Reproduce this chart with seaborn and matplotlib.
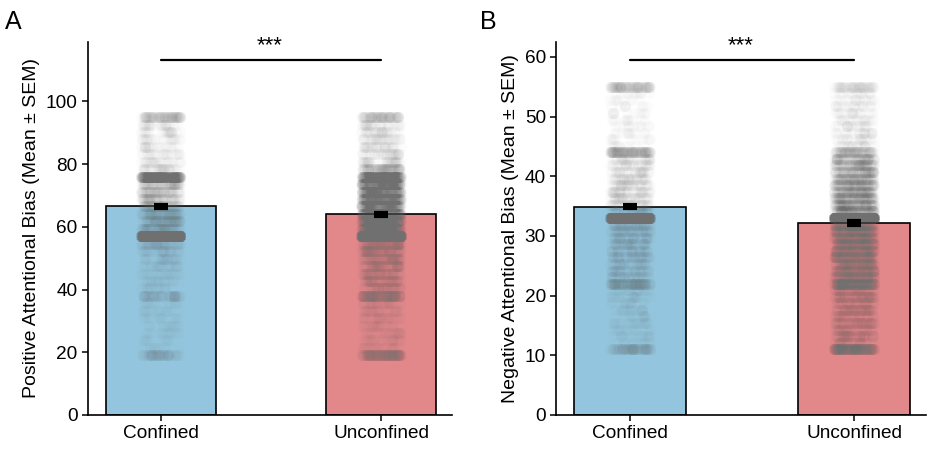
import numpy as np
import pandas as pd
import matplotlib
matplotlib.use('Agg')
import matplotlib.pyplot as plt
import seaborn as sns

# Groups and summary values (mean and SEM)
groups = ['Confined', 'Unconfined']
bar_colors = ['#93c6de', '#e2888b']

pos_means = [66.6, 64.0]
pos_sem = [0.5, 0.5]
neg_means = [34.9, 32.2]
neg_sem = [0.3, 0.3]

# Positive bias: score levels and how many subjects sit on each (estimated from darkness)
pos_levels = [19.0, 21.4, 23.75, 26.1, 28.5, 30.9, 33.25, 35.6, 38.0, 40.4, 42.75,
              45.1, 47.5, 49.9, 52.25, 54.6, 57.0, 59.4, 61.75, 64.1, 66.5, 68.9,
              71.25, 73.6, 76.0, 78.4, 80.75, 83.1, 85.5, 87.9, 90.25, 92.6, 95.0]
pos_counts_confined = [60, 10, 10, 12, 12, 12, 14, 14, 60, 16, 18,
                       20, 24, 27, 33, 55, 1350, 85, 85, 80, 80, 80,
                       85, 100, 420, 40, 28, 25, 25, 25, 25, 28, 110]
pos_counts_unconfined = [160, 22, 22, 22, 22, 25, 28, 32, 160, 50, 56,
                         62, 68, 75, 88, 105, 2000, 330, 330, 315, 300, 300,
                         300, 315, 360, 120, 44, 38, 36, 36, 33, 33, 100]

# Negative bias: score levels and counts
neg_levels = [11.0, 12.1, 13.2, 14.3, 15.4, 16.5, 17.6, 18.7, 19.8, 20.9, 22.0,
              23.1, 24.2, 25.3, 26.4, 27.5, 28.6, 29.7, 30.8, 31.9, 33.0, 34.1,
              35.2, 36.3, 37.4, 38.5, 39.6, 40.7, 41.8, 42.9, 44.0, 45.1, 46.2,
              47.3, 48.4, 49.5, 50.6, 51.7, 52.8, 53.9, 55.0]
neg_counts_confined = [90, 10, 15, 12, 20, 12, 18, 12, 20, 20, 120,
                       36, 40, 38, 45, 40, 45, 45, 50, 56, 1300, 50,
                       45, 42, 42, 40, 40, 36, 34, 34, 160, 11, 11,
                       11, 11, 11, 11, 9, 9, 11, 110]
neg_counts_unconfined = [260, 36, 60, 40, 64, 40, 64, 44, 70, 60, 250,
                         120, 124, 128, 132, 136, 140, 144, 152, 180, 2200, 170,
                         155, 146, 140, 134, 126, 118, 112, 100, 110, 25, 22,
                         22, 22, 20, 20, 20, 17, 17, 55]


def expand(levels, counts_a, counts_b):
    vals = np.concatenate([np.repeat(levels, counts_a), np.repeat(levels, counts_b)])
    grp = [groups[0]] * int(np.sum(counts_a)) + [groups[1]] * int(np.sum(counts_b))
    return pd.DataFrame({'group': grp, 'value': vals})


pos_df = expand(pos_levels, pos_counts_confined, pos_counts_unconfined)
neg_df = expand(neg_levels, neg_counts_confined, neg_counts_unconfined)

sns.set_style('ticks')
plt.rcParams['font.family'] = ['Liberation Sans', 'DejaVu Sans']
plt.rcParams['text.color'] = 'black'
plt.rcParams['axes.labelcolor'] = 'black'
np.random.seed(3)

fig = plt.figure(figsize=(9.35, 4.51), dpi=100)
ax_a = fig.add_axes([0.094, 0.080, 0.389, 0.827])
ax_b = fig.add_axes([0.595, 0.080, 0.395, 0.827])

panels = [
    (ax_a, pos_df, pos_means, pos_sem, 'Positive Attentional Bias (Mean ± SEM)',
     (0, 119), [0, 20, 40, 60, 80, 100], 113.2),
    (ax_b, neg_df, neg_means, neg_sem, 'Negative Attentional Bias (Mean ± SEM)',
     (0, 62.5), [0, 10, 20, 30, 40, 50, 60], 59.5),
]

for ax, df, means, sems, ylab, ylim, yticks, sig_y in panels:
    sns.barplot(x=groups, y=means, hue=groups, palette=bar_colors, legend=False,
                saturation=1, width=0.5, edgecolor='black', linewidth=1.2,
                ax=ax, zorder=1)
    sns.stripplot(data=df, x='group', y='value', order=groups, color='#707070',
                  alpha=0.018, size=8, jitter=0.09, linewidth=0, ax=ax, zorder=2)
    ax.errorbar([0, 1], means, yerr=sems, fmt='none', ecolor='black',
                elinewidth=3, capsize=5, capthick=3, zorder=4)

    # significance bracket
    ax.plot([0, 1], [sig_y, sig_y], color='black', lw=1.6, zorder=5)
    ax.text(0.5, 0.99, '***', transform=ax.transAxes, ha='center', va='center',
            fontsize=16)

    ax.set_xlim(-0.33, 1.32)
    ax.set_ylim(*ylim)
    ax.set_yticks(yticks)
    ax.set_xlabel('')
    ax.set_ylabel(ylab, fontsize=14)
    ax.tick_params(axis='both', labelsize=13.7, length=4, width=1.1, colors='black')
    for s in ['left', 'bottom']:
        ax.spines[s].set_linewidth(1.2)
        ax.spines[s].set_color('black')
    sns.despine(ax=ax)

fig.text(0.005, 0.925, 'A', fontsize=18, ha='left', va='bottom')
fig.text(0.513, 0.925, 'B', fontsize=18, ha='left', va='bottom')

fig.savefig('out.png', dpi=100)
